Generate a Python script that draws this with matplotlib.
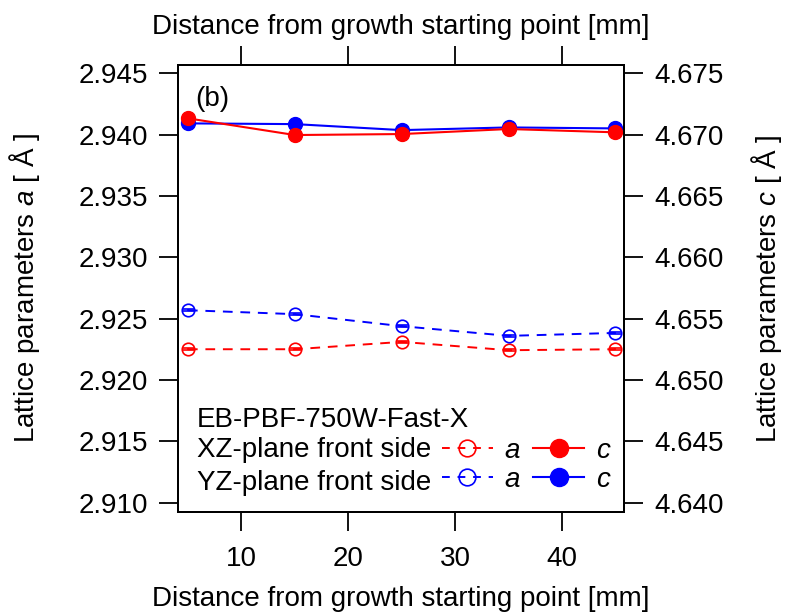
import matplotlib
matplotlib.use("Agg")
from matplotlib import pyplot as plt
from matplotlib.lines import Line2D
import numpy as np

plt.rcParams['font.family'] = ['Liberation Sans', 'DejaVu Sans']
plt.rcParams['mathtext.fontset'] = 'custom'
plt.rcParams['mathtext.rm'] = 'Liberation Sans'
plt.rcParams['mathtext.it'] = 'Liberation Sans:italic'

# distance from growth starting point [mm]
dist = [5, 15, 25, 35, 45]

# lattice parameter a [A] (left axis)
xz_a = [2.92251, 2.92251, 2.92311, 2.92243, 2.92251]
yz_a = [2.92569, 2.92537, 2.92439, 2.92360, 2.92384]
xz_a_err = [0.0001, 0.0001, 0.0001, 0.0001, 0.0001]
yz_a_err = [0.0001, 0.0001, 0.0001, 0.0001, 0.0001]

# lattice parameter c [A] (right axis)
xz_c = [4.67133, 4.66997, 4.67005, 4.67046, 4.67019]
yz_c = [4.67092, 4.67086, 4.67037, 4.67059, 4.67051]

a_ticks = [2.910, 2.915, 2.920, 2.925, 2.930, 2.935, 2.940, 2.945]
c_ticks = [4.640, 4.645, 4.650, 4.655, 4.660, 4.665, 4.670, 4.675]
x_ticks = [10, 20, 30, 40]

a_lim = (2.90927, 2.94568)
c_shift = 1.730
x_lim = (4.1, 45.8)

red = '#ff0000'
blue = '#0000ff'
FS = 20

fig = plt.figure(figsize=(7.9, 6.13), dpi=100)
ax = fig.add_axes([0.2257, 0.1653, 0.5642, 0.7287])
ax2 = ax.twinx()
ax3 = ax.twiny()

# a (open circles, dashed)
ax.errorbar(dist, xz_a, yerr=xz_a_err, color=red, lw=1.4, dashes=(5, 4),
            marker='o', ms=9, mfc='none', mec=red, mew=1.2,
            capsize=4, capthick=1.2, elinewidth=1.2)
ax.errorbar(dist, yz_a, yerr=yz_a_err, color=blue, lw=1.4, dashes=(5, 4),
            marker='o', ms=9, mfc='none', mec=blue, mew=1.2,
            capsize=4, capthick=1.2, elinewidth=1.2)

# c (filled circles, solid)
ax2.plot(dist, yz_c, color=blue, lw=1.5, marker='o', ms=10)
ax2.plot(dist, xz_c, color=red, lw=1.5, marker='o', ms=10)

ax.set_xlim(*x_lim)
ax3.set_xlim(*x_lim)
ax.set_ylim(*a_lim)
ax2.set_ylim(a_lim[0] + c_shift, a_lim[1] + c_shift)

ax.set_yticks(a_ticks)
ax.set_yticklabels([f"{v:.3f}" for v in a_ticks])
ax2.set_yticks(c_ticks)
ax2.set_yticklabels([f"{v:.3f}" for v in c_ticks])
ax.set_xticks(x_ticks)
ax3.set_xticks(x_ticks)
ax3.set_xticklabels([])

for a in (ax, ax2, ax3):
    a.tick_params(direction='out', length=14, width=1.3, labelsize=FS, pad=8)
    for s in a.spines.values():
        s.set_linewidth(1.3)
ax.tick_params(axis='x', pad=11)

ax.set_xlabel('Distance from growth starting point [mm]', fontsize=FS, labelpad=10)
ax3.set_xlabel('Distance from growth starting point [mm]', fontsize=FS, labelpad=0.5)
ax.set_ylabel('Lattice parameters $\\it{a}$ [ Å ]', fontsize=FS, labelpad=26)
ax2.set_ylabel('Lattice parameters $\\it{c}$ [ Å ]', fontsize=FS, labelpad=18)

ax.text(0.039, 0.908, '(b)', transform=ax.transAxes, fontsize=FS, va='baseline', ha='left')

ax.text(0.041, 0.1903, 'EB-PBF-750W-Fast-X', transform=ax.transAxes, fontsize=FS, va='baseline')
ax.text(0.041, 0.1231, 'XZ-plane front side', transform=ax.transAxes, fontsize=FS, va='baseline')
ax.text(0.041, 0.0486, 'YZ-plane front side', transform=ax.transAxes, fontsize=FS, va='baseline')

handles = [
    Line2D([], [], color=red, lw=1.4, dashes=(4, 4), marker='o', ms=12, mfc='none', mec=red, mew=1.2),
    Line2D([], [], color=blue, lw=1.4, dashes=(4, 4), marker='o', ms=12, mfc='none', mec=blue, mew=1.2),
    Line2D([], [], color=red, lw=1.5, marker='o', ms=13),
    Line2D([], [], color=blue, lw=1.5, marker='o', ms=13),
]
leg = ax.legend(handles, ['a', 'a', 'c', 'c'], ncol=2,
                loc='center left', bbox_to_anchor=(0.591, 0.1037), frameon=False,
                borderpad=0, borderaxespad=0, handlelength=1.84, handletextpad=0.43,
                columnspacing=0.47, labelspacing=0.1,
                prop={'family': 'Liberation Sans', 'style': 'italic', 'size': FS})

fig.savefig('out.png', dpi=100)
